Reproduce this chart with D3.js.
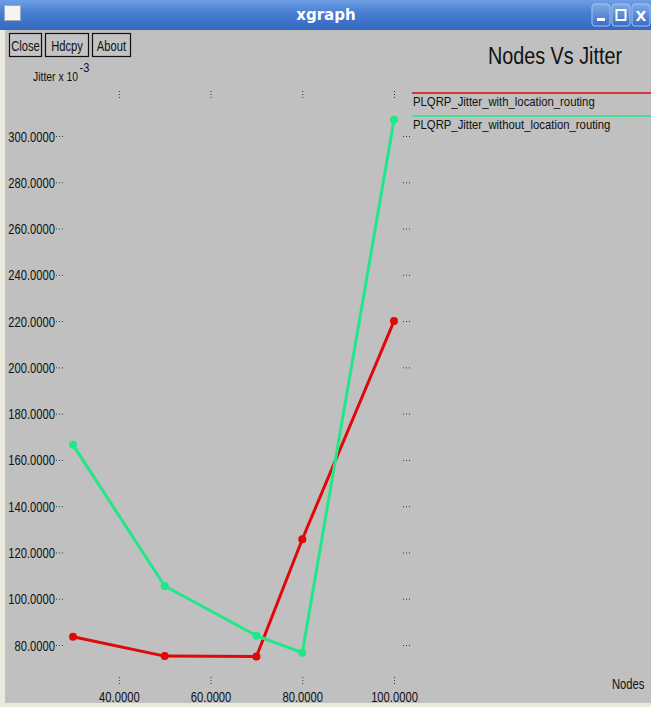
<!DOCTYPE html>
<html>
<head>
<meta charset="utf-8">
<script src="https://cdn.jsdelivr.net/npm/d3@7"></script>
<style>
  html, body { margin: 0; padding: 0; background: #c0c0c0; }
  svg { display: block; }
  .narrow { font-family: "Liberation Sans", Arial, sans-serif; }
</style>
</head>
<body>
<svg id="chart" width="651" height="707"></svg>
<script>
// Nodes vs jitter (x 10^-3) for two PLQRP routing variants
const nodes = [30, 50, 70, 80, 100];
const jitterWithLocation = [83.6, 75.2, 75.0, 125.7, 220.0];
const jitterWithoutLocation = [166.5, 105.5, 84.0, 76.7, 307.0];
const seriesNames = ["PLQRP_Jitter_with_location_routing", "PLQRP_Jitter_without_location_routing"];
const seriesColors = ["#e00808", "#22e688"];
const xTicks = [40, 60, 80, 100];
const yTicks = [80, 100, 120, 140, 160, 180, 200, 220, 240, 260, 280, 300];

const W = 651, H = 707;
const svg = d3.select("#chart");

// condense a text to a fraction of its natural width (xgraph uses a narrow face)
function squeeze(sel, factor) {
  sel.each(function () {
    const len = this.getComputedTextLength();
    d3.select(this).attr("textLength", len * factor).attr("lengthAdjust", "spacingAndGlyphs");
  });
}

// window background
svg.append("rect").attr("width", W).attr("height", H).attr("fill", "#c0c0c0");
// left and bottom frame edges
svg.append("rect").attr("x", 0).attr("y", 29).attr("width", 5).attr("height", H - 29).attr("fill", "#ebe8dc");
svg.append("rect").attr("x", 0).attr("y", H - 4).attr("width", W).attr("height", 4).attr("fill", "#ebe8dc");

// title bar
const defs = svg.append("defs");
const tg = defs.append("linearGradient").attr("id", "tbar").attr("x1", 0).attr("y1", 0).attr("x2", 0).attr("y2", 1);
tg.append("stop").attr("offset", "0%").attr("stop-color", "#6f9fe4");
tg.append("stop").attr("offset", "40%").attr("stop-color", "#4a7fd4");
tg.append("stop").attr("offset", "100%").attr("stop-color", "#3568c0");
svg.append("rect").attr("x", 0).attr("y", 0).attr("width", W).attr("height", 30).attr("fill", "url(#tbar)");
svg.append("rect").attr("x", 4.5).attr("y", 5.5).attr("width", 16).attr("height", 15).attr("fill", "#f4f4f4").attr("stroke", "#9ab").attr("stroke-width", 1);
svg.append("text").attr("x", 326).attr("y", 20).attr("text-anchor", "middle")
  .attr("font-family", "DejaVu Sans, sans-serif").attr("font-weight", "bold").attr("font-size", 15)
  .attr("fill", "#ffffff").text("xgraph");

// title bar controls
const bg = defs.append("linearGradient").attr("id", "tbtn").attr("x1", 0).attr("y1", 0).attr("x2", 0).attr("y2", 1);
bg.append("stop").attr("offset", "0%").attr("stop-color", "#7eaaea");
bg.append("stop").attr("offset", "100%").attr("stop-color", "#3b6cc4");
const ctrlX = [592, 612, 632];
ctrlX.forEach(cx => {
  svg.append("rect").attr("x", cx).attr("y", 4).attr("width", 18).attr("height", 22).attr("rx", 3)
    .attr("fill", "url(#tbtn)").attr("stroke", "#a8c4ee").attr("stroke-width", 1);
});
svg.append("rect").attr("x", 597).attr("y", 18).attr("width", 8).attr("height", 3).attr("fill", "#fff");
svg.append("rect").attr("x", 616.5).attr("y", 10).attr("width", 9).attr("height", 10).attr("fill", "none").attr("stroke", "#fff").attr("stroke-width", 2);
svg.append("text").attr("x", 641).attr("y", 21).attr("text-anchor", "middle")
  .attr("font-family", "DejaVu Sans, sans-serif").attr("font-weight", "bold").attr("font-size", 14)
  .attr("fill", "#fff").text("X");

// command buttons
const buttons = [
  { label: "Close", x: 9, w: 32 },
  { label: "Hdcpy", x: 45, w: 43 },
  { label: "About", x: 92, w: 38 }
];
buttons.forEach(b => {
  svg.append("rect").attr("x", b.x + 0.5).attr("y", 33.5).attr("width", b.w).attr("height", 23)
    .attr("fill", "#c4c4c4").attr("stroke", "#111").attr("stroke-width", 1.2);
  svg.append("text").attr("class", "narrow").attr("x", b.x + b.w / 2 + 0.5).attr("y", 50.5)
    .attr("text-anchor", "middle").attr("font-size", 14).attr("fill", "#111").text(b.label)
    .call(squeeze, 0.8);
});

// chart title
svg.append("text").attr("x", 622).attr("y", 64).attr("text-anchor", "end")
  .attr("font-family", "Liberation Sans, Arial, sans-serif").attr("font-size", 23)
  .attr("fill", "#111").text("Nodes Vs Jitter").call(squeeze, 0.86);

// y axis unit label, with the exponent drawn as a separate raised text
const yl = svg.append("text").attr("class", "narrow").attr("x", 33).attr("y", 81)
  .attr("font-size", 13).attr("fill", "#111").text("Jitter x 10").call(squeeze, 0.8);
const ylEnd = 33 + (+yl.attr("textLength"));
svg.append("text").attr("class", "narrow").attr("x", ylEnd + 1.5).attr("y", 72)
  .attr("font-size", 13).attr("fill", "#111").text("-3").call(squeeze, 0.85);

// scales
const x = d3.scaleLinear().domain([30, 100]).range([73, 394]);
const y = d3.scaleLinear().domain([80, 300]).range([645, 136]);
const plotLeft = 63, plotRight = 407, plotTop = 95, plotBottom = 681;

// y tick labels with short dotted ticks on both sides
const yAxisLeft = d3.axisLeft(y).tickValues(yTicks).tickFormat(d3.format(".4f")).tickSize(0).tickPadding(0);
const gyl = svg.append("g").attr("transform", `translate(${plotLeft - 8},0)`).call(yAxisLeft);
gyl.select(".domain").remove();
gyl.selectAll("text").attr("class", "narrow").attr("font-size", 14).attr("fill", "#111")
  .attr("x", 0).attr("dy", "0.36em").call(squeeze, 0.8);
gyl.selectAll(".tick").append("line").attr("x1", 1).attr("x2", 8).attr("y1", 0).attr("y2", 0)
  .attr("stroke", "#333").attr("stroke-width", 1).attr("stroke-dasharray", "1,2");

const yAxisRight = d3.axisRight(y).tickValues(yTicks).tickFormat("").tickSize(0);
const gyr = svg.append("g").attr("transform", `translate(${plotRight},0)`).call(yAxisRight);
gyr.select(".domain").remove();
gyr.selectAll(".tick").append("line").attr("x1", -4).attr("x2", 4).attr("y1", 0).attr("y2", 0)
  .attr("stroke", "#333").attr("stroke-width", 1).attr("stroke-dasharray", "1,2");

// x tick labels and dotted ticks at top and bottom
const xAxisBottom = d3.axisBottom(x).tickValues(xTicks).tickFormat(d3.format(".4f")).tickSize(0).tickPadding(0);
const gxb = svg.append("g").attr("transform", `translate(0,${plotBottom})`).call(xAxisBottom);
gxb.select(".domain").remove();
gxb.selectAll("text").attr("class", "narrow").attr("font-size", 14).attr("fill", "#111")
  .attr("y", 11).attr("dy", "0.71em").call(squeeze, 0.8);
gxb.selectAll(".tick").append("line").attr("x1", 0).attr("x2", 0).attr("y1", -4).attr("y2", 4)
  .attr("stroke", "#333").attr("stroke-width", 1).attr("stroke-dasharray", "1,2");

const xAxisTop = d3.axisTop(x).tickValues(xTicks).tickFormat("").tickSize(0);
const gxt = svg.append("g").attr("transform", `translate(0,${plotTop})`).call(xAxisTop);
gxt.select(".domain").remove();
gxt.selectAll(".tick").append("line").attr("x1", 0).attr("x2", 0).attr("y1", -4).attr("y2", 4)
  .attr("stroke", "#333").attr("stroke-width", 1).attr("stroke-dasharray", "1,2");

// x axis unit label
svg.append("text").attr("class", "narrow").attr("x", 612).attr("y", 689)
  .attr("font-size", 14).attr("fill", "#111").text("Nodes").call(squeeze, 0.8);

// series lines and markers
const series = [jitterWithLocation, jitterWithoutLocation];
const line = d3.line().x((d, i) => x(nodes[i])).y(d => y(d));
series.forEach((vals, si) => {
  svg.append("path").datum(vals).attr("d", line).attr("fill", "none")
    .attr("stroke", seriesColors[si]).attr("stroke-width", 3).attr("stroke-linejoin", "round");
  svg.append("g").selectAll("circle").data(vals).join("circle")
    .attr("cx", (d, i) => x(nodes[i])).attr("cy", d => y(d)).attr("r", 4)
    .attr("fill", seriesColors[si]);
});

// legend
const legendY = [93, 116];
seriesNames.forEach((name, i) => {
  svg.append("line").attr("x1", 412).attr("x2", W).attr("y1", legendY[i]).attr("y2", legendY[i])
    .attr("stroke", seriesColors[i]).attr("stroke-width", 1.5);
  svg.append("text").attr("class", "narrow").attr("x", 413).attr("y", legendY[i] + 13)
    .attr("font-size", 13).attr("fill", "#111").text(name).call(squeeze, 0.87);
});
</script>
</body>
</html>
